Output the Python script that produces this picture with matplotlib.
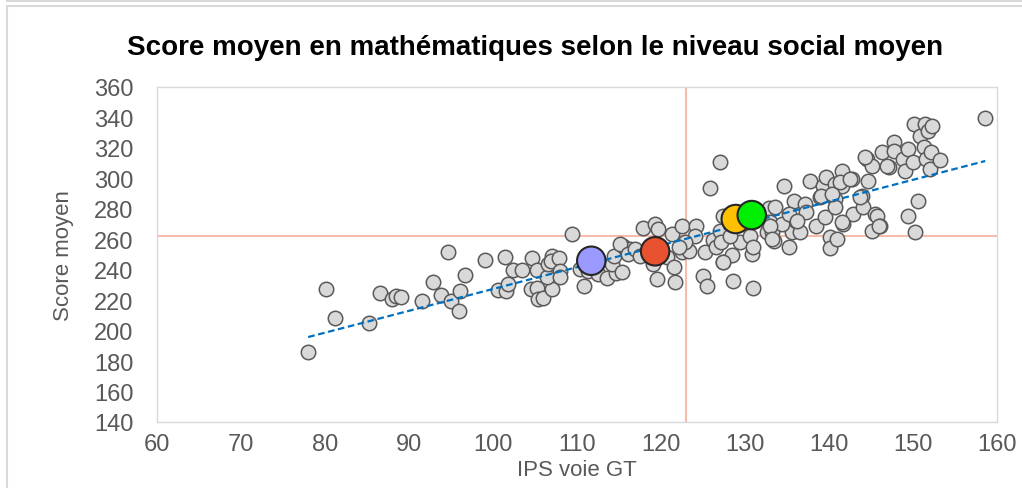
import matplotlib
matplotlib.use("Agg")
import matplotlib.pyplot as plt
from matplotlib.lines import Line2D

plt.rcParams['font.family'] = ['Liberation Sans', 'DejaVu Sans']

# IPS voie GT (x) and mean maths score (y), one entry per school
ips = [78.0, 80.1, 81.2, 85.2, 86.5, 88.0, 88.5, 89.1, 91.5, 92.9, 93.8, 94.7,
       95.0, 96.0, 96.1, 96.7, 99.1, 100.6, 101.4, 101.6, 101.8, 102.4, 103.5,
       104.6, 105.2, 104.5, 105.2, 105.3, 106.0, 107.0, 106.4, 106.6, 107.0,
       106.9, 107.8, 108.0, 108.0, 109.4, 110.8, 110.4, 111.3, 112.5, 113.6,
       114.7, 114.2, 114.4, 115.5, 115.9, 116.3, 115.1, 116.1, 116.9, 117.5,
       115.3, 117.8, 119.3, 119.6, 120.7, 121.3, 121.5, 119.1, 119.5, 121.7,
       122.5, 122.5, 123.3, 124.2, 124.1, 122.9, 122.1, 125.2, 126.2, 126.6,
       127.4, 128.4, 125.0, 125.5, 128.6, 130.8, 131.0, 127.4, 127.0, 125.8,
       128.0, 129.4, 130.6, 127.0, 131.0, 127.2, 127.4, 128.2,
       132.6, 132.8, 133.6, 133.0, 133.2, 133.4, 134.6, 135.2, 135.6, 135.8,
       136.1, 136.5, 137.1, 137.3, 137.7, 138.5, 138.9, 139.3, 139.5, 139.7,
       140.1, 140.1, 140.9, 140.7, 140.7, 140.7, 141.5, 141.5, 141.7, 142.7,
       142.9, 143.9, 144.1, 144.5, 144.7, 145.1, 145.1, 145.5, 145.7, 146.1,
       146.3, 147.1, 147.7, 147.7, 148.8, 149.0, 149.4, 149.4, 150.0, 150.2,
       150.6, 150.1, 150.8, 151.3, 151.4, 151.6, 151.8, 152.0, 152.2, 152.3,
       153.2, 158.6, 143.7, 145.9, 144.3, 146.9, 139.1, 140.3, 141.3, 142.5,
       141.5, 134.4, 135.2, 133.0, 136.2, 133.2]
score = [185.8, 227.3, 208.5, 205.0, 224.6, 220.8, 223.0, 222.0, 219.7, 231.7,
         223.6, 251.4, 219.7, 212.8, 225.8, 236.5, 246.6, 226.5, 248.6, 226.2,
         230.6, 239.6, 239.6, 247.5, 239.6, 227.3, 227.8, 220.8, 221.6, 227.6,
         235.0, 243.8, 249.2, 245.9, 247.5, 239.4, 235.0, 263.5, 229.6, 240.5,
         239.0, 237.5, 234.6, 237.7, 244.0, 249.0, 255.8, 251.4, 253.6, 256.9,
         250.3, 253.6, 249.2, 238.3, 267.4, 270.0, 266.7, 248.1, 263.4, 241.6,
         243.8, 233.9, 232.2, 268.5, 251.4, 252.5, 268.5, 261.9, 258.0, 254.7,
         251.4, 259.7, 254.7, 244.8, 249.7, 236.1, 229.5, 232.8, 250.3, 227.8,
         275.5, 310.5, 293.4, 262.4, 258.4, 261.9, 265.6, 254.7, 258.0, 245.3,
         262.4,
         264.5, 280.5, 281.5, 271.1, 264.6, 259.1, 295.2, 254.7, 264.6, 285.4,
         272.2, 264.6, 283.2, 277.7, 298.5, 268.5, 287.5, 295.2, 274.4, 300.7,
         261.3, 254.3, 260.2, 296.3, 286.4, 281.0, 305.0, 295.2, 270.0, 299.6,
         276.6, 288.6, 281.0, 312.7, 298.5, 308.3, 265.6, 276.6, 275.5, 268.9,
         317.1, 307.2, 324.1, 318.2, 312.7, 305.0, 319.3, 275.5, 310.5, 264.6,
         285.4, 335.7, 328.0, 320.4, 335.7, 312.7, 331.3, 306.1, 317.1, 334.6,
         312.3, 339.4, 287.6, 268.9, 313.8, 308.3, 288.6, 289.7, 297.4, 299.6,
         271.1, 270.0, 276.6, 268.9, 272.2, 260.2]

# highlighted schools
hl_ips = [111.7, 119.3, 128.9, 130.8]
hl_score = [245.9, 252.1, 273.3, 275.9]
hl_colors = ['#9999ff', '#e8522f', '#ffc000', '#00ee00']

# linear trend
trend_x = [78.0, 158.6]
trend_y = [195.8, 311.4]

# reference lines (means)
mean_ips = 123.0
mean_score = 262.0

x_ticks = list(range(60, 161, 10))
y_ticks = list(range(140, 361, 20))

fig = plt.figure(figsize=(10.22, 4.89), dpi=100)
ax = fig.add_axes([157 / 1022, 1 - 423 / 489, 840 / 1022, 335 / 489])

# chart frame
frame_col = '#d9d9d9'
fig.add_artist(Line2D([7 / 1022, 1], [1 - 7 / 489, 1 - 7 / 489], color=frame_col, lw=1.5))
fig.add_artist(Line2D([7 / 1022, 7 / 1022], [0, 1 - 7 / 489], color=frame_col, lw=1.5))
fig.add_artist(Line2D([7 / 1022, 1], [1 - 2 / 489, 1 - 2 / 489], color=frame_col, lw=1.5))

ax.axvline(mean_ips, color='#f8bcad', lw=1.5, zorder=1)
ax.axhline(mean_score, color='#f8bcad', lw=1.5, zorder=1)

ax.scatter(ips, score, s=108, c='#d9d9d9', edgecolors='#595959', linewidths=1.1, zorder=2)
ax.plot(trend_x, trend_y, color='#0070c0', lw=1.6, ls=(0, (3, 1.6)), zorder=3)
ax.scatter(hl_ips, hl_score, s=420, c=hl_colors, edgecolors='#262626', linewidths=1.5, zorder=4)

ax.set_xlim(60, 160)
ax.set_ylim(140, 360)
ax.set_xticks(x_ticks)
ax.set_yticks(y_ticks)
ax.tick_params(length=0, labelsize=17, labelcolor='#595959')
ax.tick_params(axis='y', pad=17)
ax.tick_params(axis='x', pad=8)
for sp in ax.spines.values():
    sp.set_color('#d9d9d9')
    sp.set_linewidth(1)

ax.set_xlabel('IPS voie GT', fontsize=16, color='#595959', labelpad=3)
ax.set_ylabel('Score moyen', fontsize=16, color='#595959', labelpad=14)
fig.text(535 / 1022, 1 - 48 / 489, 'Score moyen en mathématiques selon le niveau social moyen',
         ha='center', va='center', fontsize=20, fontweight='bold', color='black')

fig.savefig('out.png', dpi=100)
